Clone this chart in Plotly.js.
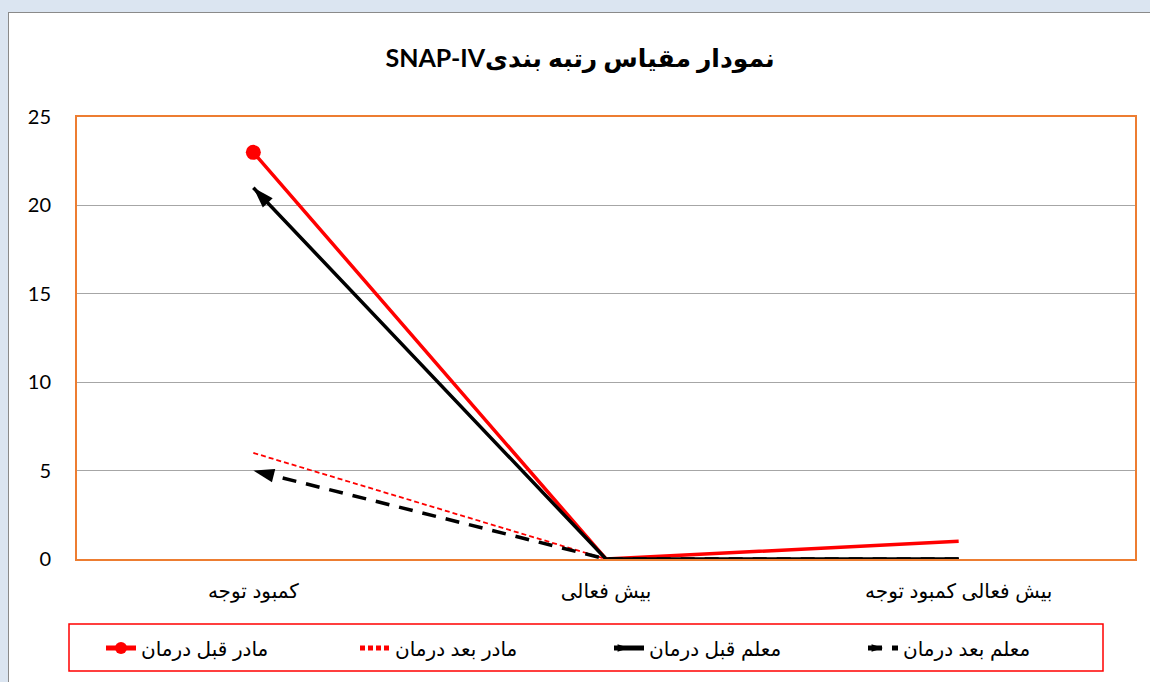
<!DOCTYPE html>
<html>
<head>
<meta charset="utf-8">
<script src="https://cdn.plot.ly/plotly-3.0.1.min.js"></script>
<style>
  html, body { margin: 0; padding: 0; width: 1150px; height: 682px; overflow: hidden;
    background: #dbe5f1; }
  #chart { position: absolute; left: 8px; top: 12px; width: 1142px; height: 670px;
    border-left: 1px solid #8a8a8a; border-top: 1px solid #8a8a8a; box-sizing: border-box; background: #fff; }
</style>
</head>
<body>
<div id="chart"></div>
<script>
const categories = ['کمبود توجه', 'بیش فعالی', 'بیش فعالی کمبود توجه'];
const seriesNames = ['مادر قبل درمان', 'مادر بعد درمان', 'معلم قبل درمان', 'معلم بعد درمان'];
const motherBefore = [23, 0, 1];
const motherAfter = [6, 0, 0];
const teacherBefore = [21, 0, 0];
const teacherAfter = [5, 0, 0];
const chartTitle = '\u202Bنمودار مقیاس رتبه بندیSNAP-IV\u202C';
const yTicks = [0, 5, 10, 15, 20, 25];

const rev = a => a.slice().reverse();
const lastOnly = (n, s) => Array.from({length: n}, (_, i) => i === n - 1 ? s : 0);
const firstOnly = (n, s) => Array.from({length: n}, (_, i) => i === 0 ? s : 0);

const traces = [
  {
    name: seriesNames[0], x: categories, y: motherBefore, type: 'scatter', mode: 'lines+markers',
    line: {color: '#ff0000', width: 3.5},
    marker: {color: '#ff0000', opacity: 1, symbol: 'circle', size: firstOnly(categories.length, 15), line: {width: 0}}
  },
  {
    name: seriesNames[1], x: categories, y: motherAfter, type: 'scatter', mode: 'lines',
    line: {color: '#ff0000', width: 1.8, dash: '5px,3px'}
  },
  {
    name: seriesNames[2], x: rev(categories), y: rev(teacherBefore), type: 'scatter', mode: 'lines+markers',
    line: {color: '#000000', width: 3.5},
    marker: {color: '#000000', opacity: 1, symbol: 'arrow', angleref: 'previous', size: lastOnly(categories.length, 22), line: {width: 0}}
  },
  {
    name: seriesNames[3], x: rev(categories), y: rev(teacherAfter), type: 'scatter', mode: 'lines+markers',
    line: {color: '#000000', width: 3.5, dash: '14px,10px'},
    marker: {color: '#000000', opacity: 1, symbol: 'arrow', angleref: 'previous', size: lastOnly(categories.length, 22), line: {width: 0}}
  }
];

const layout = {
  width: 1142, height: 670,
  margin: {l: 68, r: 16, t: 104, b: 124},
  paper_bgcolor: '#ffffff', plot_bgcolor: '#ffffff',
  font: {family: 'Arial, "Liberation Sans", "DejaVu Sans", sans-serif', color: '#000'},
  title: {text: chartTitle, x: 0.5, xref: 'container', y: 1 - 45/670, yref: 'container', yanchor: 'middle',
    font: {family: 'Lato, "DejaVu Sans", sans-serif', size: 25, color: '#000', weight: 'bold'}},
  xaxis: {
    type: 'category', categoryorder: 'array', categoryarray: categories, range: [-0.5, 2.5],
    showgrid: false, zeroline: false, showline: true, mirror: true, linecolor: '#ed7d31', linewidth: 2,
    ticks: 'outside', ticklen: 13, tickcolor: 'rgba(0,0,0,0)', tickfont: {size: 20}
  },
  yaxis: {
    range: [0, 25], tickvals: yTicks, showgrid: true, gridcolor: '#a6a6a6', gridwidth: 1,
    zeroline: false, showline: true, mirror: true, linecolor: '#ed7d31', linewidth: 2,
    ticks: 'outside', ticklen: 20, tickcolor: 'rgba(0,0,0,0)',
    tickfont: {family: 'Lato, "Open Sans", sans-serif', size: 20}
  },
  showlegend: true,
  legend: {
    orientation: 'h', xref: 'container', yref: 'container',
    x: 92/1142, xanchor: 'left', y: 1 - 635/670, yanchor: 'middle',
    bgcolor: 'rgba(0,0,0,0)', borderwidth: 0, itemsizing: 'constant',
    font: {size: 20}, entrywidth: 209, entrywidthmode: 'pixels', traceorder: 'normal'
  },
  shapes: [
    {type: 'rect', xref: 'paper', yref: 'paper',
     x0: (60 - 68) / 1058, x1: (1094 - 68) / 1058, y0: (546 - 658) / 442, y1: (546 - 611) / 442,
     line: {color: '#ff0000', width: 1.5}, fillcolor: 'rgba(0,0,0,0)', layer: 'above'}
  ]
};

Plotly.newPlot('chart', traces, layout, {displayModeBar: false, staticPlot: true});
</script>
</body>
</html>
